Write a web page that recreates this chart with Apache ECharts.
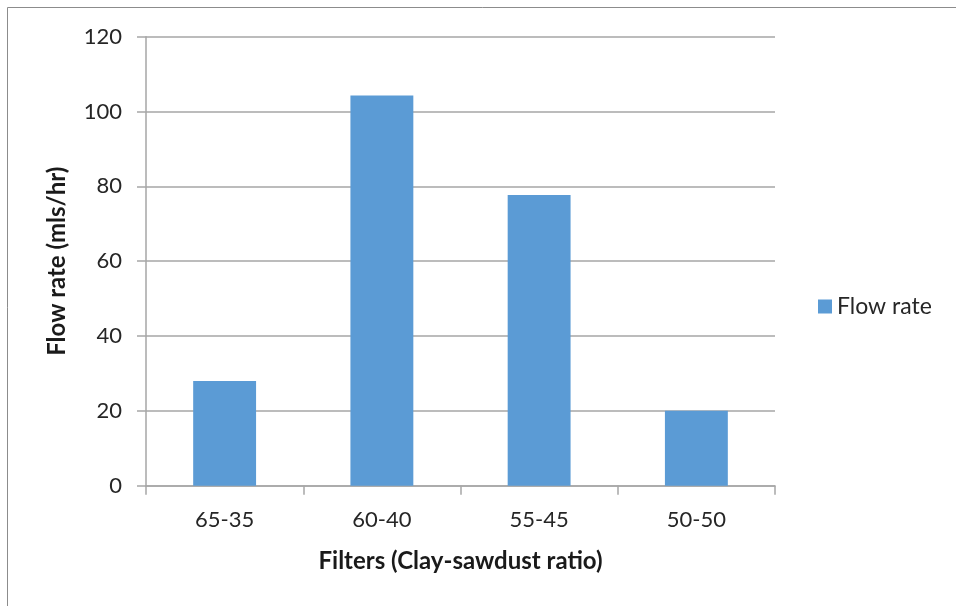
<!DOCTYPE html>
<html>
<head>
<meta charset="utf-8">
<script src="https://cdn.jsdelivr.net/npm/echarts@6/dist/echarts.min.js"></script>
<style>
html,body{margin:0;padding:0;background:#fff;}
#chart{width:956px;height:606px;}
</style>
</head>
<body>
<div id="chart"></div>
<script>
const categories = ['65-35', '60-40', '55-45', '50-50'];
const flowRate = [28, 104.3, 77.7, 20];
const seriesName = 'Flow rate';
const xTitle = 'Filters (Clay-sawdust ratio)';
const yTitle = 'Flow rate (mls/hr)';

const FONT = 'Lato, "Open Sans", sans-serif';
const chart = echarts.init(document.getElementById('chart'), null, {renderer: 'canvas'});
chart.setOption({
  animation: false,
  backgroundColor: '#fff',
  graphic: [{
    type: 'rect',
    shape: {x: 7.5, y: 7.5, width: 1200, height: 1200},
    style: {fill: 'none', stroke: '#8c8c8c', lineWidth: 1},
    silent: true
  }],
  grid: {left: 146, right: 181, top: 36.7, bottom: 120.3, containLabel: false},
  legend: {
    data: [seriesName],
    orient: 'vertical',
    left: 818, top: 295,
    padding: 0,
    itemWidth: 14, itemHeight: 14, itemGap: 6,
    icon: 'rect',
    textStyle: {fontFamily: FONT, fontSize: 23, color: '#262626', padding: [0,0,0,0]}
  },
  xAxis: {
    type: 'category',
    data: categories,
    name: xTitle,
    nameLocation: 'middle',
    nameGap: 64,
    nameTextStyle: {fontFamily: FONT, fontSize: 24, fontWeight: 'bold', color: '#1a1a1a'},
    axisLine: {lineStyle: {color: '#a6a6a6', width: 1.5}},
    axisTick: {show: true, length: 9, lineStyle: {color: '#a6a6a6', width: 1.5}},
    axisLabel: {fontFamily: FONT, fontSize: 22, color: '#262626', margin: 23}
  },
  yAxis: {
    type: 'value',
    min: 0, max: 120, interval: 20,
    name: yTitle,
    nameLocation: 'middle',
    nameGap: 77,
    nameTextStyle: {fontFamily: FONT, fontSize: 24, fontWeight: 'bold', color: '#1a1a1a'},
    axisLine: {show: true, lineStyle: {color: '#a6a6a6', width: 1.5}},
    axisTick: {show: true, length: 9, lineStyle: {color: '#a6a6a6', width: 1.5}},
    splitLine: {lineStyle: {color: '#a6a6a6', width: 1.5}},
    axisLabel: {fontFamily: FONT, fontSize: 22, color: '#262626', margin: 24}
  },
  series: [{
    name: seriesName,
    type: 'bar',
    data: flowRate,
    barWidth: '40%',
    itemStyle: {color: '#5b9bd5'}
  }]
});
</script>
</body>
</html>
